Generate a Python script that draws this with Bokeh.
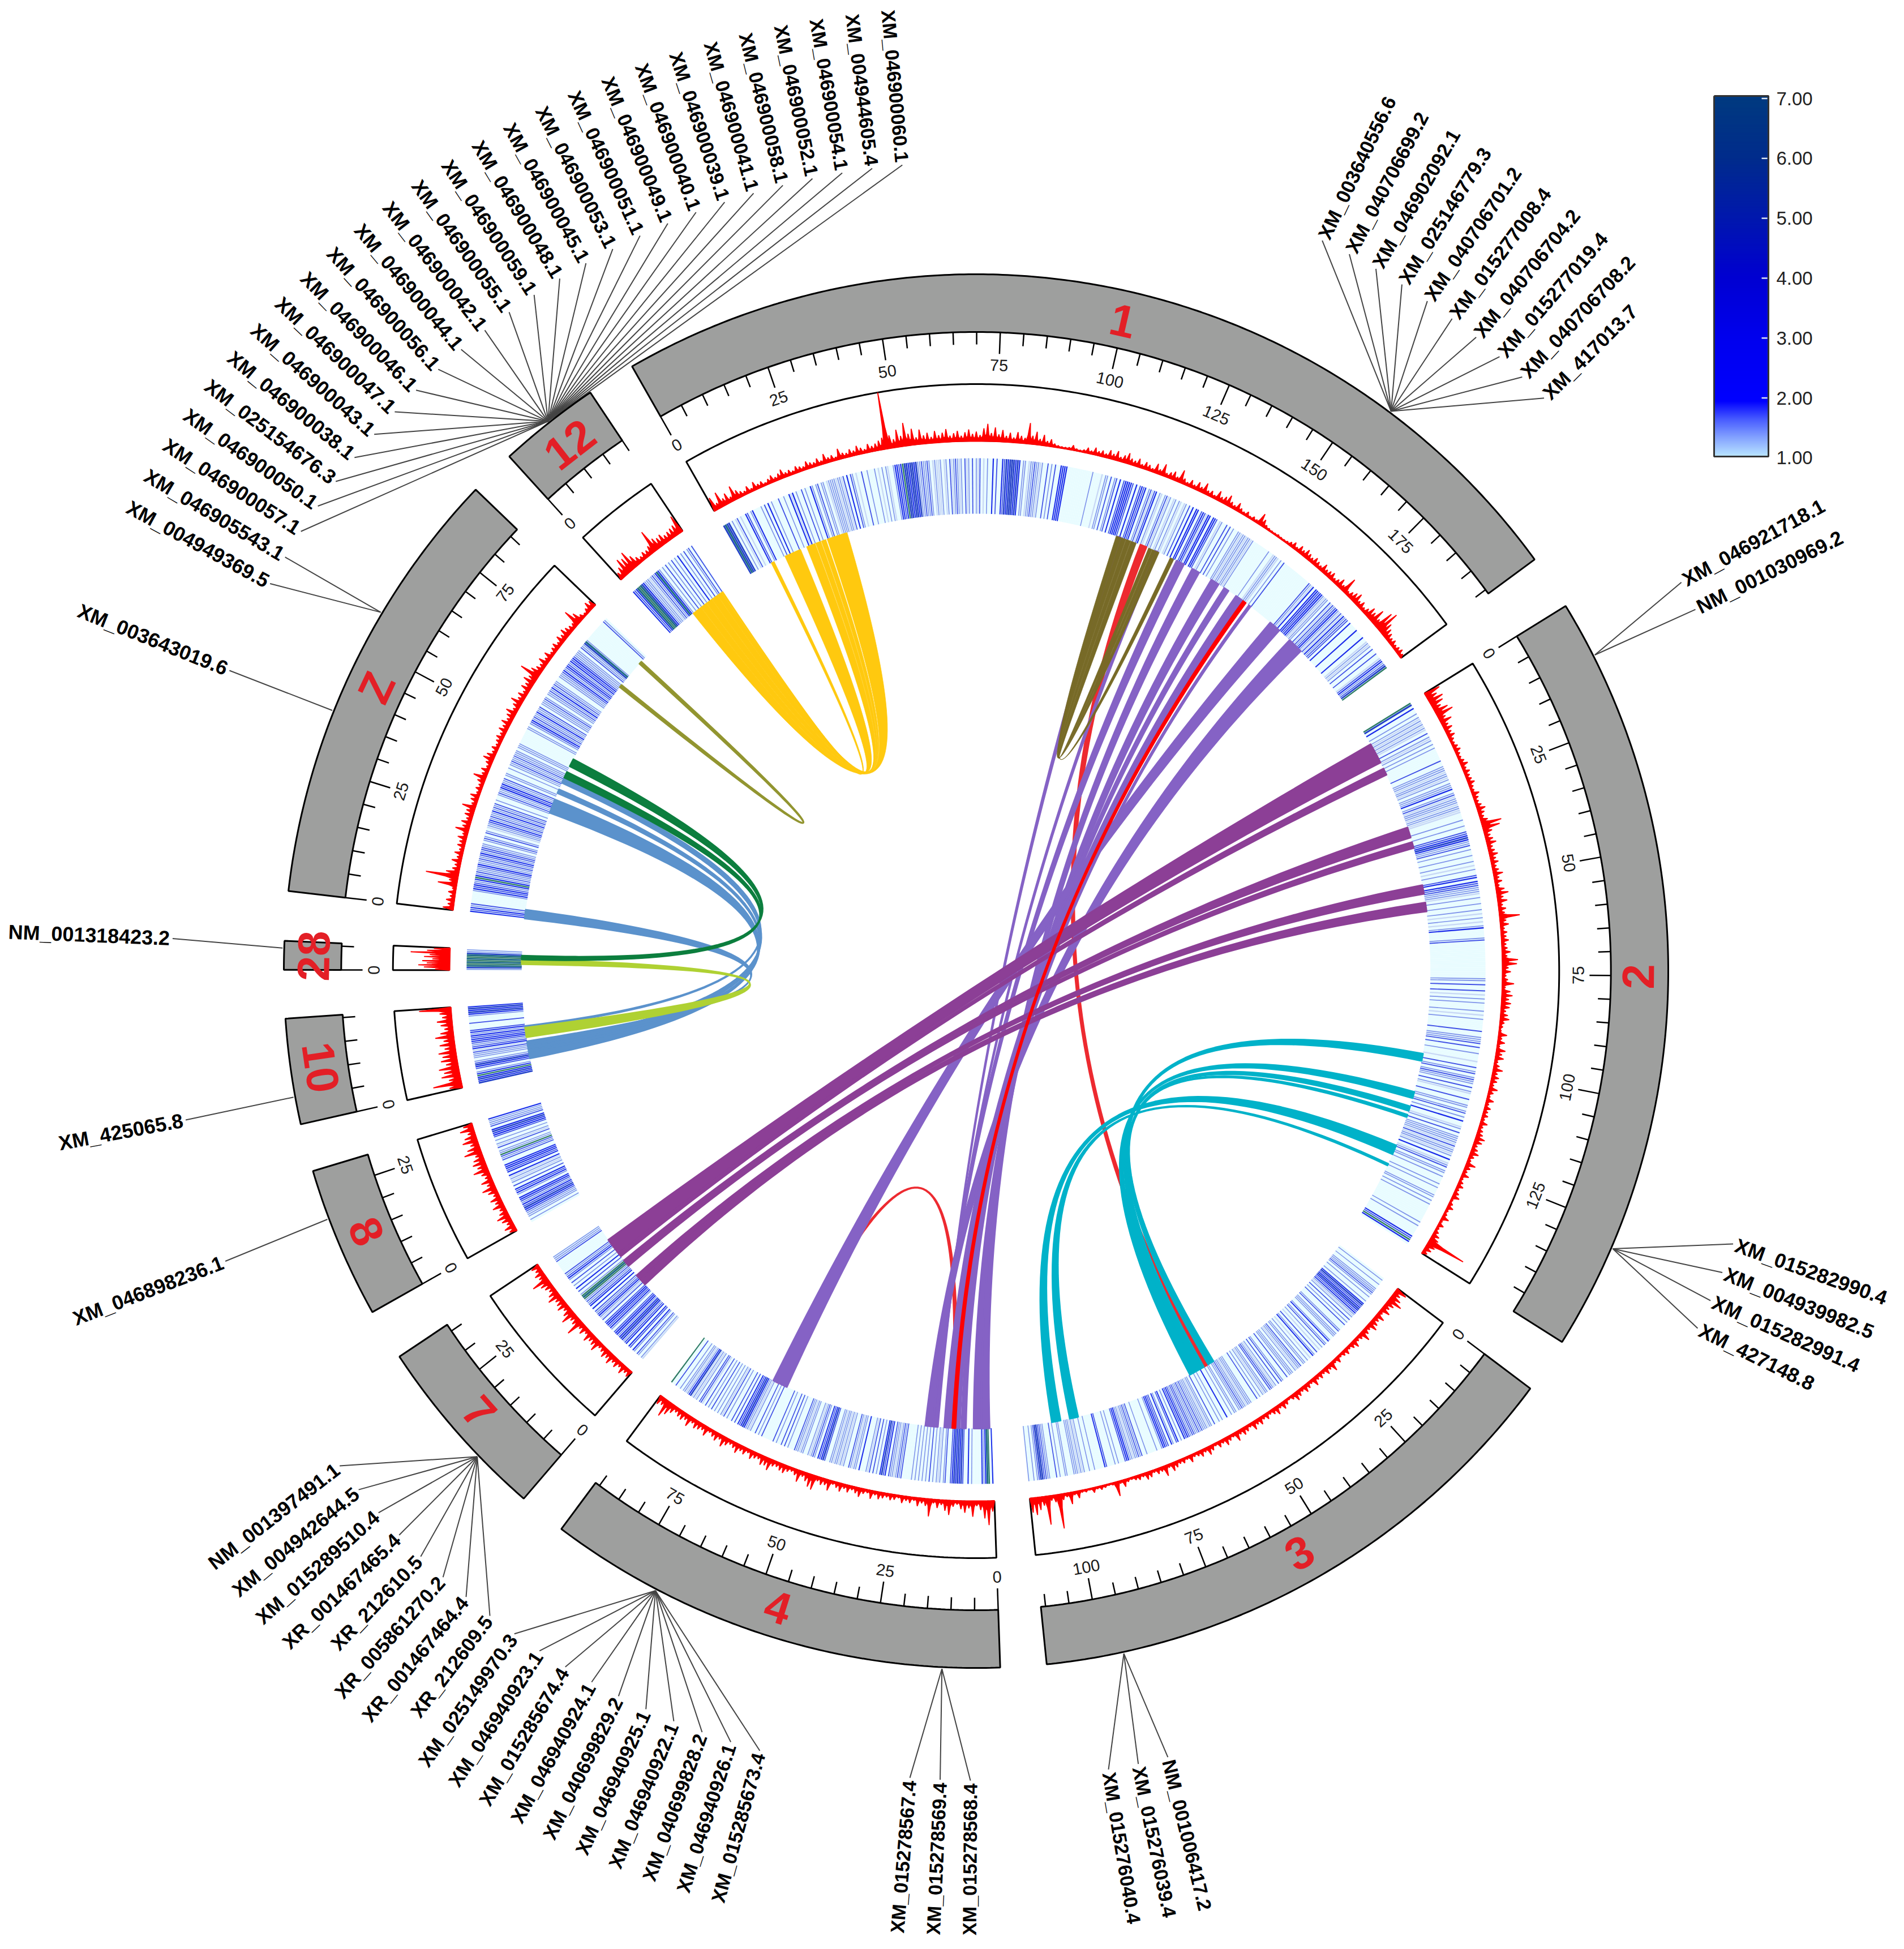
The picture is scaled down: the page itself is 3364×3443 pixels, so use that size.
import math
from bokeh.plotting import figure
from bokeh.models import Range1d, ColumnDataSource
from bokeh.core.properties import value, field
from bokeh.embed import file_html
from bokeh.resources import INLINE

CHR_NAMES = ["1", "2", "3", "4", "7", "8", "10", "28", "Z", "12"]
CHR_SIZE = [196.0, 149.5, 111.0, 91.0, 36.6, 29.6, 20.6, 5.6, 87.0, 20.0]
MAJOR_TICKS = [[0, 25, 50, 75, 100, 125, 150, 175], [0, 25, 50, 75, 100, 125], [0, 25, 50, 75, 100],
               [0, 25, 50, 75], [0, 25], [0, 25], [0], [0], [0, 25, 50, 75], [0]]

HIST_1 = [24,10,27,12,18,8,25,14,9,6,
          12,5,14,7,9,4,8,12,6,10,
          15,7,9,5,11,8,6,13,9,7,
          12,6,16,8,10,5,18,9,7,12,
          8,15,10,6,14,9,12,16,20,100,
          22,14,30,18,40,20,28,12,25,14,
          18,10,20,12,16,22,10,14,18,9,
          15,20,12,16,10,22,30,14,24,12,
          20,10,16,8,18,12,9,36,14,22,
          10,18,8,12,5,3,2,2,3,8,
          3,2,4,9,5,12,7,10,6,14,
          9,16,7,12,18,10,8,14,6,12,
          9,5,16,8,20,6,10,14,7,22,
          9,5,12,6,14,8,18,7,10,5,
          16,8,12,18,9,6,14,7,4,8,
          3,6,4,20,12,5,3,2,2,3,
          2,2,3,6,10,5,12,8,14,10,
          7,12,9,6,14,8,10,12,6,9,
          15,8,28,6,10,14,18,8,12,6,
          10,18,14,26,12,34,40,22,16,12,8,10,6,8,10,6]
HIST_2 = [28,18,26,22,14,24,30,12,20,10,
          14,9,12,7,5,8,10,6,5,8,
          12,6,10,7,8,11,6,5,12,8,
          6,9,14,10,7,12,35,30,14,9,
          12,16,8,10,14,9,12,7,10,16,
          8,12,6,14,20,10,16,7,12,9,
          35,10,14,6,10,8,12,7,9,14,
          8,27,25,10,14,6,9,20,5,14,
          18,12,16,14,8,12,15,7,5,3,
          14,6,12,4,15,10,14,5,9,16,
          8,12,10,6,14,8,4,12,5,10,
          7,9,5,12,6,8,10,16,13,7,
          10,14,8,5,16,9,6,12,4,7,
          10,5,8,12,3,6,10,4,5,12,
          3,9,4,7,12,14,70,15,12,8]
HIST_3 = [20,12,18,25,14,10,16,6,15,9,
          12,16,7,10,18,8,6,13,9,5,
          10,7,4,10,5,16,8,12,6,10,
          7,14,5,9,12,6,10,14,7,3,
          8,12,6,14,9,5,10,6,12,8,
          14,5,9,12,7,16,5,8,13,6,
          10,4,9,14,6,11,7,5,12,4,
          8,6,10,14,5,18,7,9,4,10,
          12,5,8,6,3,5,12,4,25,3,
          2,4,6,3,8,2,4,3,12,5,
          20,6,10,60,12,8,50,15,22,30,25]
HIST_4 = [18,42,30,15,8,27,12,20,14,6,
          10,25,18,8,14,6,30,12,8,14,
          5,10,7,12,4,8,10,6,9,12,
          6,14,5,8,15,10,6,12,7,14,
          9,5,18,10,12,7,25,22,14,8,
          20,10,6,9,14,12,8,10,20,14,
          16,8,10,14,6,12,9,16,10,7,
          12,18,8,14,10,6,16,9,12,14,
          8,18,10,14,12,8,14,22,30,12,15]
HIST_7 = [12,9,16,8,14,10,18,12,16,10,8,20,14,12,18,8,15,10,30,14,12,25,16,10,18,14,12,22,16,10,14,18,30,12,16,10,14]
HIST_8 = [12,18,10,16,22,14,10,20,12,18,9,16,24,12,20,10,14,26,16,22,18,12,30,22,14,26,20,12,24,16]
HIST_10 = [22,50,20,32,26,34,20,28,24,30,18,26,18,32,22,14,20,26,16,20,56]
HIST_28 = [25,45,55,40,48,30,45,35,69,40,28]
HIST_Z = [18,10,14,8,12,6,33,14,57,22,
          12,9,16,8,14,7,12,10,15,8,
          23,12,16,9,14,13,23,8,12,15,
          6,10,7,12,22,9,13,6,10,18,
          14,7,11,6,9,12,8,14,10,16,
          9,13,18,8,12,20,10,14,8,16,
          12,20,14,35,18,12,9,16,8,14,
          6,9,12,7,14,10,16,12,9,8,
          30,18,8,4,8,15,12]
HIST_12 = [12,18,30,26,34,20,12,8,12,10,14,40,20,16,18,12,14,16,18,32]

# expression class of each 0.5 Mb bin (0 = no track, 1 = lowest, 8 = highest)
HEAT_1 = [6,7,6,6,1,3,1,2,4,1,2,1,1,5,4,1,3,5,1,1,1,1,3,1,4,1,5,1,3,1,1,1,4,1,1,3,1,1,5,2,5,1,3,1,1,4,1,3,1,1,5,3,1,3,4,1,3,3,1,2,3,3,3,3,2,3,3,2,4,1,5,1,4,3,1,2,1,1,4,1,1,3,1,1,1,3,1,2,1,3,1,3,2,1,1,3,5,5,4,5,8,6,6,5,6,6,5,6,3,3,4,3,3,4,3,1,2,3,2,2,3,1,2,3,1,4,2,3,4,3,2,3,1,4,2,3,1,4,1,3,2,4,1,2,1,3,1,1,5,1,4,1,1,5,4,6,5,6,6,6,5,6,5,1,3,3,1,2,3,3,4,3,3,2,3,1,1,4,1,3,1,4,1,1,5,5,5,5,1,1,1,1,1,1,1,1,1,1,1,1,1,3,1,1,1,1,2,1,3,3,1,4,1,3,4,1,5,1,4,5,5,5,5,4,1,5,1,4,5,4,5,1,3,4,2,4,5,1,3,2,1,3,4,2,3,1,2,3,1,3,2,1,2,3,1,4,1,5,1,5,5,1,4,5,4,2,5,5,1,5,5,4,1,2,3,1,1,4,1,4,1,3,1,1,3,3,2,3,3,2,3,3,2,3,1,1,1,1,1,1,1,1,1,3,1,1,2,3,3,2,1,3,1,4,1,1,1,1,1,1,1,1,1,1,1,1,1,1,1,1,4,3,2,5,1,5,5,4,5,5,3,2,3,3,1,4,2,4,3,4,5,3,2,4,2,5,3,4,4,1,5,1,1,1,1,5,1,1,1,1,5,1,1,2,3,2,3,1,4,1,1,4,1,1,2,4,5,3,4,6,8]
HEAT_2 = [8,6,1,5,1,1,3,1,3,2,3,2,3,2,3,2,1,4,1,3,2,3,1,3,1,3,1,1,1,1,1,1,4,1,1,3,3,3,2,3,3,2,3,1,3,3,3,5,1,3,4,2,3,3,3,2,3,3,2,2,1,1,1,3,1,1,3,1,1,4,4,5,6,5,3,3,4,1,3,1,1,3,1,1,3,1,2,1,3,1,1,4,5,1,5,4,4,3,3,3,2,1,3,1,1,3,1,1,3,1,2,1,3,1,2,1,3,5,1,1,1,1,3,4,1,1,1,1,1,1,1,1,1,1,1,1,1,1,1,1,1,1,3,3,1,4,1,1,4,1,2,1,3,1,3,1,1,1,3,1,2,1,3,1,1,1,1,1,4,1,1,3,3,3,4,1,4,1,1,3,1,1,1,2,1,1,4,1,3,4,1,3,4,3,3,1,4,1,3,2,1,1,4,1,1,3,3,1,3,4,1,3,1,5,1,1,2,3,1,4,1,3,3,3,3,2,4,2,3,3,2,3,1,5,1,2,3,4,1,3,3,1,3,1,1,1,3,1,3,1,1,1,3,3,1,3,1,3,1,1,1,1,1,1,1,1,1,3,1,3,1,1,1,1,1,5,4,8,5,1]
HEAT_3 = [1,3,1,1,3,1,1,3,3,3,4,3,1,3,1,1,3,1,5,6,4,5,6,5,4,5,3,2,3,1,4,1,3,1,4,1,1,1,3,4,1,3,3,3,1,1,3,5,1,3,4,1,3,1,2,1,4,1,3,5,1,2,1,3,1,3,3,1,4,3,3,2,3,1,3,3,3,1,4,1,1,3,4,1,4,1,3,2,3,4,4,1,3,3,2,3,1,3,1,4,1,1,1,3,3,3,2,3,3,4,3,3,1,3,3,1,3,1,1,5,1,1,3,1,3,1,1,4,1,3,3,2,3,3,3,4,3,4,3,3,4,4,3,4,5,4,5,1,3,1,5,4,1,3,5,1,4,4,5,5,3,1,1,3,1,1,1,1,1,3,1,1,4,3,4,3,3,2,3,3,5,5,4,1,1,1,3,1,3,1,1,1,1,4,5,1,1,1,1,1,3,1,1,3,1,1,3,2,3,2,3,3,3,1,1,1,3,3,1,1,3,1,4,1,1,1,3,3,4,4,6,6,4,3,1,3,1,1,3]
HEAT_4 = [5,1,8,7,5,3,5,1,1,1,1,1,3,1,5,1,1,4,6,5,6,5,6,5,4,1,1,4,3,1,3,2,3,1,3,1,4,1,3,1,3,1,3,1,3,1,3,1,1,1,1,1,4,3,4,3,2,3,3,4,1,5,4,6,5,1,3,1,4,1,4,2,3,1,1,1,5,1,3,3,2,3,4,1,1,3,2,3,2,3,3,2,3,3,1,1,4,6,5,4,5,1,3,4,3,2,3,1,1,3,3,2,3,3,4,1,1,1,3,1,4,1,4,1,1,3,1,4,1,1,1,1,1,1,4,1,3,1,4,1,1,3,2,3,3,5,6,5,4,5,1,4,1,4,1,1,3,1,4,2,3,1,3,1,3,1,4,1,3,1,4,1,2,4,4,1,3,2,3,2,6,5,3,2,3,3,1,3,1,1,4,1,1,8]
HEAT_7 = [2,3,1,3,4,1,3,5,1,4,5,1,5,4,3,5,6,5,3,5,5,4,1,3,5,4,5,5,4,1,4,2,3,5,4,3,4,1,5,1,5,4,3,4,3,8,7,8,3,1,4,1,5,1,3,1,4,1,3,5,4,3,4,1,1,1,1,1,1,1,4,3,3,3,0]
HEAT_8 = [1,3,1,3,3,3,4,5,6,4,5,3,4,5,5,1,3,5,4,5,1,4,1,3,2,3,2,5,1,5,4,5,5,5,1,1,4,3,4,8,3,3,1,4,2,3,1,3,1,4,5,5,6,5,1,4,3,3,3,5]
HEAT_10 = [6,5,6,5,8,5,3,1,4,5,6,4,3,1,3,3,3,4,2,5,4,3,4,5,5,4,5,3,5,4,1,1,1,4,1,1,1,3,5,6,5,6,5]
HEAT_28 = [3,6,7,8,7,8,7,8,7,6,3,3]
HEAT_Z = [5,4,5,3,4,1,1,1,1,1,1,3,5,4,5,4,3,5,8,5,3,4,3,3,4,5,3,3,4,3,4,5,3,4,4,3,3,1,3,4,3,1,4,3,1,2,3,3,4,5,3,4,3,3,5,3,4,3,4,1,3,1,1,3,4,3,3,5,4,5,3,3,4,1,3,3,1,1,3,1,3,3,4,3,3,4,3,3,3,1,3,3,3,1,1,1,1,1,1,1,1,3,3,1,3,4,5,3,4,3,3,5,3,3,4,1,3,3,3,4,3,1,3,3,4,3,5,3,4,3,3,1,1,3,3,3,4,5,3,4,5,4,3,5,4,5,4,3,3,3,3,1,4,3,3,6,7,3,1,1,1,1,1,1,1,1,1,1,1,1,4,3,1,0]
HEAT_12 = [5,4,5,7,8,7,6,5,3,3,3,2,3,4,3,5,7,5,3,1,3,1,4,1,3,1,4,1,3,1,5,1,3,1,4,1,3,4,1,4]
HEAT_CLASS_COLOR = ["#FFFFFF", "#E8FCFF", "#C8D8F6", "#7F93EA", "#4050E6", "#1A2AEA", "#2440C8", "#1F6A86", "#2F7A62"]
HEAT_CLASS_HALF = [0, 0.5, 0.36, 0.26, 0.28, 0.33, 0.42, 0.5, 0.36]

HIST = [HIST_1, HIST_2, HIST_3, HIST_4, HIST_7, HIST_8, HIST_10, HIST_28, HIST_Z, HIST_12]
HEAT = [HEAT_1, HEAT_2, HEAT_3, HEAT_4, HEAT_7, HEAT_8, HEAT_10, HEAT_28, HEAT_Z, HEAT_12]

YELLOW = "#FFC90F"; OLIVE = "#776A27"; OLIVE2 = "#929530"; REDL = "#ED2A30"; RED = "#FF0000"
PURPLE = "#8562C5"; MAGENTA = "#8C3F96"; TEAL = "#00B2C9"; BLUE = "#5B92CC"; GREEN = "#0C7E3E"; LIME = "#AFD133"

LINKS = [
    ("4", 65.0, 65.8, "4", 11.0, 12.0, REDL),
    ("1", 119.6, 121.5, "3", 53.0, 54.2, REDL),
    ("12", 9.0, 12.0, "1", 25.0, 31.2, YELLOW),
    ("12", 12.05, 14.0, "1", 23.2, 24.6, YELLOW),
    ("12", 14.05, 16.0, "1", 21.4, 23.0, YELLOW),
    ("12", 16.05, 18.0, "1", 18.5, 21.2, YELLOW),
    ("12", 18.05, 19.5, "1", 11.5, 16.6, YELLOW),
    ("12", 19.55, 20.0, "1", 7.0, 8.0, YELLOW),
    ("1", 112.5, 113.5, "4", 16.0, 16.2, PURPLE),
    ("1", 124.4, 125.2, "4", 16.3, 16.6, PURPLE),
    ("1", 131.3, 133.7, "4", 16.7, 17.4, PURPLE),
    ("1", 136.5, 138.8, "4", 0.7, 3.0, PURPLE),
    ("1", 143.0, 145.5, "4", 3.05, 5.4, PURPLE),
    ("1", 147.5, 149.0, "4", 7.7, 9.0, PURPLE),
    ("1", 151.7, 154.3, "4", 12.2, 14.1, PURPLE),
    ("1", 156.4, 157.0, "4", 9.5, 10.7, PURPLE),
    ("1", 164.5, 168.0, "4", 62.4, 66.8, PURPLE),
    ("1", 172.2, 176.8, "4", 17.5, 19.7, PURPLE),
    ("1", 112.0, 113.5, "1", 129.2, 130.4, OLIVE),
    ("1", 113.6, 115.0, "1", 124.5, 125.6, OLIVE),
    ("1", 115.1, 116.5, "1", 123.4, 124.4, OLIVE),
    ("1", 116.6, 118.3, "1", 122.2, 123.3, OLIVE),
    ("7", 26.0, 31.0, "2", 4.4, 10.5, MAGENTA),
    ("7", 24.9, 25.9, "2", 12.5, 14.5, MAGENTA),
    ("7", 22.4, 23.4, "2", 31.2, 34.3, MAGENTA),
    ("7", 21.3, 22.3, "2", 35.7, 37.5, MAGENTA),
    ("7", 16.0, 17.6, "2", 48.7, 51.3, MAGENTA),
    ("7", 14.0, 15.9, "2", 53.9, 56.5, MAGENTA),
    ("2", 98.5, 100.6, "3", 54.2, 56.5, TEAL),
    ("2", 110.0, 111.9, "3", 56.6, 58.9, TEAL),
    ("2", 114.4, 115.8, "3", 52.0, 52.7, TEAL),
    ("2", 117.0, 117.7, "3", 50.9, 51.7, TEAL),
    ("2", 126.6, 129.4, "3", 99.6, 102.2, TEAL),
    ("2", 132.5, 133.0, "3", 94.3, 96.8, TEAL),
    ("1", 154.3, 155.2, "4", 10.8, 11.7, RED),
    ("Z", 74.5, 75.3, "Z", 83.5, 84.3, OLIVE2),
    ("10", 4.0, 6.0, "Z", 32.0, 36.2, BLUE),
    ("10", 6.05, 7.0, "Z", 38.2, 39.4, BLUE),
    ("10", 7.05, 8.0, "Z", 41.5, 42.6, BLUE),
    ("10", 8.05, 9.1, "Z", 0.0, 2.6, BLUE),
    ("10", 13.2, 13.6, "Z", 42.7, 43.0, BLUE),
    ("10", 10.3, 13.1, "28", 1.8, 3.2, LIME),
    ("28", 3.2, 4.3, "Z", 46.9, 49.2, GREEN),
    ("28", 3.2, 3.8, "Z", 43.2, 45.0, GREEN),
]

GENE_ANCHOR_CHR = ["1", "2", "2", "3", "4", "4", "7", "8", "10", "28", "Z", "Z", "12"]
GENE_ANCHOR_MB = [156.0, 11.0, 129.0, 95.9, 11.3, 69.2, 12.1, 19.9, 5.4, 4.2, 35.9, 57.0, 10.1]
GENE_NAMES = [
    ["XM_003640556.6", "XM_040706699.2", "XM_046902092.1", "XM_025146779.3", "XM_040706701.2", "XM_015277008.4", "XM_040706704.2", "XM_015277019.4", "XM_040706708.2", "XM_417013.7"],
    ["XM_046921718.1", "NM_001030969.2"],
    ["XM_015282990.4", "XM_004939982.5", "XM_015282991.4", "XM_427148.8"],
    ["NM_001006417.2", "XM_015276039.4", "XM_015276040.4"],
    ["XM_015278568.4", "XM_015278569.4", "XM_015278567.4"],
    ["XM_015285673.4", "XM_046940926.1", "XM_040699828.2", "XM_046940922.1", "XM_046940925.1", "XM_040699829.2", "XM_046940924.1", "XM_015285674.4", "XM_046940923.1", "XM_025149970.3"],
    ["XR_212609.5", "XR_001467464.4", "XR_005861270.2", "XR_212610.5", "XR_001467465.4", "XM_015289510.4", "XM_004942644.5", "NM_001397491.1"],
    ["XM_046898236.1"],
    ["XM_425065.8"],
    ["NM_001318423.2"],
    ["XM_003643019.6"],
    ["XM_004949369.5", "XM_046905543.1"],
    ["XM_046900057.1", "XM_046900050.1", "XM_025154676.3", "XM_046900038.1", "XM_046900043.1", "XM_046900047.1", "XM_046900046.1", "XM_046900056.1", "XM_046900044.1", "XM_046900042.1", "XM_046900055.1", "XM_046900059.1", "XM_046900048.1", "XM_046900045.1", "XM_046900053.1", "XM_046900051.1", "XM_046900049.1", "XM_046900040.1", "XM_046900039.1", "XM_046900041.1", "XM_046900058.1", "XM_046900052.1", "XM_046900054.1", "XM_004944605.4", "XM_046900060.1"],
]
COLORBAR_TICKS = [7, 6, 5, 4, 3, 2, 1]
COLORBAR_STOPS = [(1.0, (190, 235, 255)), (1.35, (130, 160, 255)), (1.65, (70, 90, 255)), (1.95, (0, 0, 255)),
                  (3.0, (0, 0, 238)), (4.0, (0, 0, 210)), (5.0, (0, 24, 174)), (6.0, (0, 44, 140)), (7.0, (0, 58, 128))]

# ---- layout ----
CX, CY, SX = 1724.0, 1715.0, 0.9935
R_OUT, R_IN, R_BOX, R_HIST, R_HEAT_O, R_HEAT_I, R_TICKLBL, R_GENE = 1231, 1129, 1037, 937, 906, 808, 1071, 1435
SCALE = 0.4265
CHR_START = [-29.8, 58.4, 126.8, 178.0, 220.8, 240.7, 257.3, 270.1, 276.6, 317.6]
CHR_LABEL_SHIFT = [0.8, 0.2, 0.3, 0, 0, 0, 0, 0, 0, 0.3]
GENE_FIRST_ANGLE = [25.5, 61.3, 109.7, 166.2, 180.4, 195.6, 217.2, 249.0, 259.4, 272.3, 291.8, 298.6, 302.9]
GENE_STEP = 2.16
IDX = {n: i for i, n in enumerate(CHR_NAMES)}


def ang(c, mb):
    return CHR_START[c] + mb * SCALE


def pol(a, r):
    t = math.radians(a)
    return CX + SX * r * math.sin(t), CY - r * math.cos(t)


def arc(a0, a1, r, step=0.4):
    n = max(2, int(abs(a1 - a0) / step) + 2)
    return [pol(a0 + (a1 - a0) * i / (n - 1), r) for i in range(n)]


def bez(p0, p1, n=60):
    out = []
    for i in range(1, n):
        t = i / n
        u = 1 - t
        out.append((u * u * p0[0] + 2 * u * t * CX + t * t * p1[0], u * u * p0[1] + 2 * u * t * CY + t * t * p1[1]))
    return out


def chord(a0, a1, b0, b1):
    pts = arc(a0, a1, R_HEAT_I, 0.5)
    pts += bez(pts[-1], pol(b0, R_HEAT_I))
    arc_b = arc(b0, b1, R_HEAT_I, 0.5)
    pts += arc_b
    pts += bez(arc_b[-1], pts[0])
    return pts


def poly(glyph_lists, pts):
    glyph_lists[0].append([q[0] for q in pts])
    glyph_lists[1].append([q[1] for q in pts])


p = figure(width=3348, height=3427, x_range=Range1d(0, 3348), y_range=Range1d(3427, 0),
           x_axis_type=None, y_axis_type=None, toolbar_location=None, output_backend="svg",
           min_border=0, outline_line_color=None, background_fill_color="white")
p.grid.visible = False

# leader lines first, so that they start under the ideograms
lx0, ly0, lx1, ly1 = [], [], [], []
tl = {"x": [], "y": [], "t": [], "a": [], "fs": []}
tr = {"x": [], "y": [], "t": [], "a": [], "fs": []}
for g, names in enumerate(GENE_NAMES):
    ac = IDX[GENE_ANCHOR_CHR[g]]
    a0 = ang(ac, GENE_ANCHOR_MB[g])
    q0 = pol(a0, R_OUT + 3)
    for k, nm in enumerate(names):
        a = GENE_FIRST_ANGLE[g] + k * GENE_STEP
        q1 = pol(a, R_GENE - 5)
        lx0.append(q0[0]); ly0.append(q0[1]); lx1.append(q1[0]); ly1.append(q1[1])
        q = pol(a, R_GENE)
        size = "%.1fpx" % (34 * (1 + 0.055 * abs(math.sin(math.radians(a)))))
        d = tl if a % 360 < 180 else tr
        d["x"].append(q[0]); d["y"].append(q[1]); d["t"].append(nm); d["fs"].append(size)
        d["a"].append(-(a - 90) if a % 360 < 180 else -(a + 90))
p.segment(lx0, ly0, lx1, ly1, line_color="#444444", line_width=2)
p.text(x="x", y="y", text="t", angle="a", angle_units="deg", text_align="left", text_baseline="middle", source=ColumnDataSource(tl),
       text_font=value("Liberation Sans"), text_font_style="bold", text_font_size=field("fs"), text_color="black")
p.text(x="x", y="y", text="t", angle="a", angle_units="deg", text_align="right", text_baseline="middle", source=ColumnDataSource(tr),
       text_font=value("Liberation Sans"), text_font_style="bold", text_font_size=field("fs"), text_color="black")

# ideograms, ticks, tick labels, boxes
idl = [[], []]
boxl = [[], []]
tx0, ty0, tx1, ty1 = [], [], [], []
lbl = {"x": [], "y": [], "t": [], "a": []}
clbl = {"x": [], "y": [], "t": [], "a": []}
for c, nm in enumerate(CHR_NAMES):
    s = CHR_START[c]
    e = ang(c, CHR_SIZE[c])
    poly(idl, arc(s, e, R_OUT) + arc(e, s, R_IN) + [pol(s, R_OUT)])
    poly(boxl, [pol(s, R_HIST)] + arc(s, e, R_BOX) + [pol(e, R_HIST)] + arc(e, s, R_HIST))
    mb = 0
    while mb <= CHR_SIZE[c]:
        major = mb in MAJOR_TICKS[c] or mb % 25 == 0
        a = ang(c, mb)
        q0 = pol(a, R_IN)
        q1 = pol(a, R_IN - (38 if major else 22))
        tx0.append(q0[0]); ty0.append(q0[1]); tx1.append(q1[0]); ty1.append(q1[1])
        if major:
            q = pol(a, R_TICKLBL)
            na = a % 360
            rot = na if (na <= 90) else (na - 180 if na < 270 else na - 360)
            lbl["x"].append(q[0]); lbl["y"].append(q[1]); lbl["t"].append(str(mb)); lbl["a"].append(-rot)
        mb += 5
    mid = (s + e) / 2 + CHR_LABEL_SHIFT[c]
    q = pol(mid, 1178)
    na = mid % 360
    rot = na if (na <= 90) else (na - 180 if na < 270 else na - 360)
    clbl["x"].append(q[0]); clbl["y"].append(q[1]); clbl["t"].append(nm); clbl["a"].append(-rot)

p.patches(idl[0], idl[1], fill_color="#9E9F9E", line_color="black", line_width=3)
p.segment(tx0, ty0, tx1, ty1, line_color="black", line_width=2.5)
p.text(x=lbl["x"], y=lbl["y"], text=lbl["t"], angle=lbl["a"], angle_units="deg", text_align="center", text_baseline="middle",
       text_font=value("Liberation Sans"), text_font_size="29px", text_color="#1a1a1a")
p.patches(boxl[0], boxl[1], fill_color=None, line_color="black", line_width=3)
p.text(x=clbl["x"], y=clbl["y"], text=clbl["t"], angle=clbl["a"], angle_units="deg", text_align="center", text_baseline="middle",
       text_font=value("Liberation Sans"), text_font_style="bold", text_font_size="80px", text_color="#E31F26")

# histogram track: each value is one thin spike over a lower floor
hl = [[], []]
for c, vals in enumerate(HIST):
    n = len(vals)
    s = ang(c, 0)
    e = ang(c, CHR_SIZE[c])
    w = (e - s) / n
    pts = [pol(s, R_HIST)]
    for i, v in enumerate(vals):
        a = s + w * (i + 0.5)
        floor = R_HIST + min(v, 100) * 0.38
        pts.append(pol(a - w * 0.3, floor))
        pts.append(pol(a, R_HIST + min(v, 100)))
        pts.append(pol(a + w * 0.3, floor))
    pts.append(pol(e, R_HIST))
    pts += arc(e, s, R_HIST - 1)
    poly(hl, pts)
p.patches(hl[0], hl[1], fill_color="#FF0000", line_color="#FF0000", line_width=1.8)

# heat track
layers = {k: [[], []] for k in range(1, 9)}
for c, vals in enumerate(HEAT):
    n = len(vals)
    s = ang(c, 0)
    e = ang(c, CHR_SIZE[c])
    w = (e - s) / n
    for i, v in enumerate(vals):
        if v == 0:
            continue
        a0 = s + i * w
        poly(layers[1], [pol(a0, R_HEAT_O), pol(a0 + w, R_HEAT_O), pol(a0 + w, R_HEAT_I), pol(a0, R_HEAT_I)])
        if v >= 2:
            m = a0 + w / 2
            hw = w * HEAT_CLASS_HALF[v]
            poly(layers[v], [pol(m - hw, R_HEAT_O), pol(m + hw, R_HEAT_O), pol(m + hw, R_HEAT_I), pol(m - hw, R_HEAT_I)])
for k in range(1, 9):
    if layers[k][0]:
        p.patches(layers[k][0], layers[k][1], fill_color=HEAT_CLASS_COLOR[k], line_color=None)

# links
for ca, a0, a1, cb, b0, b1, col in LINKS:
    ia, ib = IDX[ca], IDX[cb]
    pts = chord(ang(ia, a0), ang(ia, a1), ang(ib, b0), ang(ib, b1))
    stroke = 0.8 if col in (YELLOW, OLIVE) else 3
    p.patch([q[0] for q in pts], [q[1] for q in pts], fill_color=col, line_color=col, line_width=stroke, line_join="round")

# colour bar
BAR_L, BAR_R, BAR_T, BAR_B = 3028, 3124, 169, 806
Y7, Y_STEP = 173.5, 105.8
bl, br, bt, bb, bc = [], [], [], [], []
for y0 in range(BAR_T, BAR_B, 2):
    v = max(1.0, min(7.0, 7 - (y0 + 1 - Y7) / Y_STEP))
    for (v0, c0), (v1, c1) in zip(COLORBAR_STOPS, COLORBAR_STOPS[1:]):
        if v0 <= v <= v1:
            f = (v - v0) / (v1 - v0)
            rgb = tuple(int(c0[j] + (c1[j] - c0[j]) * f) for j in range(3))
            break
    bl.append(BAR_L); br.append(BAR_R); bt.append(y0); bb.append(min(y0 + 3, BAR_B)); bc.append("#%02X%02X%02X" % rgb)
p.quad(left=bl, right=br, top=bt, bottom=bb, fill_color=bc, line_color=None)
p.line([BAR_L, BAR_R, BAR_R, BAR_L, BAR_L], [BAR_T, BAR_T, BAR_B, BAR_B, BAR_T], line_color="#333333", line_width=3)
tk_y = [Y7 + (7 - v) * Y_STEP for v in COLORBAR_TICKS[:-1]]
p.segment([3112] * len(tk_y), tk_y, [3122] * len(tk_y), tk_y, line_color="#DDE6F5", line_width=2.5)
p.text(x=[3138] * 7, y=[Y7 + (7 - v) * Y_STEP for v in COLORBAR_TICKS], text=["%.2f" % v for v in COLORBAR_TICKS],
       text_align="left", text_baseline="middle", text_font=value("Liberation Sans"), text_font_size="33px", text_color="#222222")

open("out.html", "w").write(file_html(p, INLINE))
